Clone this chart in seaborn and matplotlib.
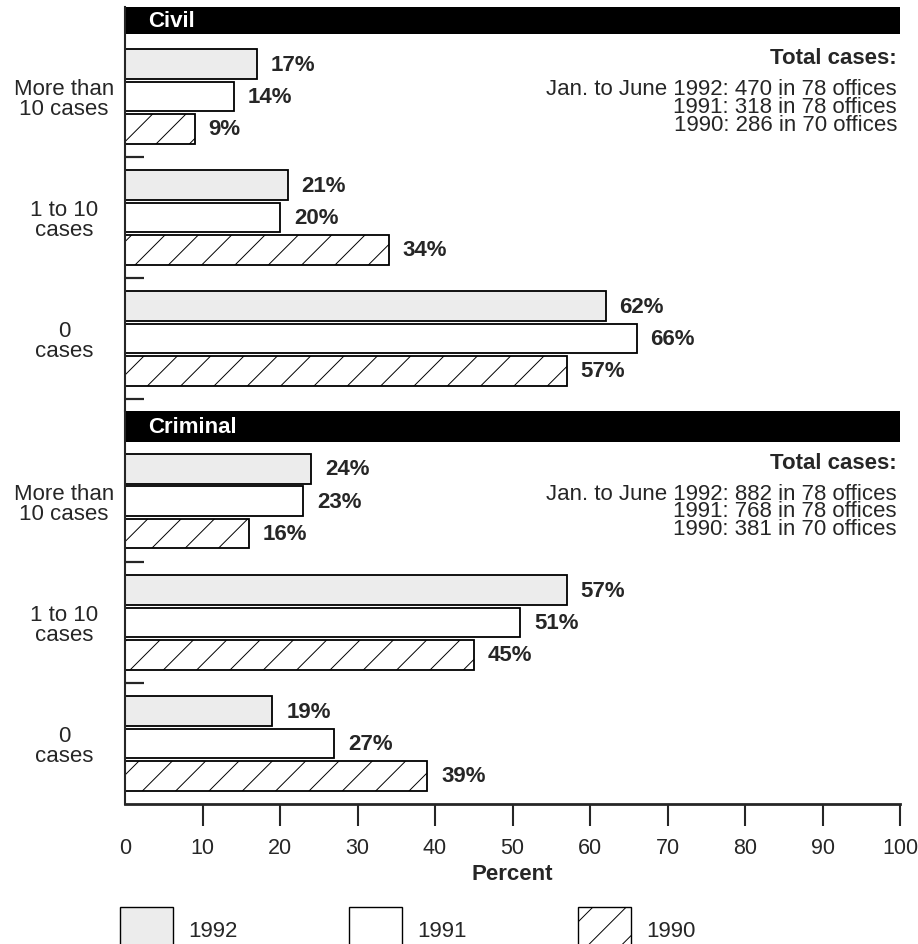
import matplotlib
matplotlib.use('Agg')
import matplotlib.pyplot as plt
from matplotlib.patches import Patch, Rectangle
import pandas as pd
import seaborn as sns

# categories and years
categories = ['More than\n10 cases', '1 to 10\ncases', '0\ncases']
years = ['1992', '1991', '1990']

# percent of offices, one list per year (same order as categories)
civil_1992 = [17, 21, 62]
civil_1991 = [14, 20, 66]
civil_1990 = [9, 34, 57]

criminal_1992 = [24, 57, 19]
criminal_1991 = [23, 51, 27]
criminal_1990 = [16, 45, 39]

civil_totals = ['Jan. to June 1992: 470 in 78 offices',
                '1991: 318 in 78 offices',
                '1990: 286 in 70 offices']
criminal_totals = ['Jan. to June 1992: 882 in 78 offices',
                   '1991: 768 in 78 offices',
                   '1990: 381 in 70 offices']

x_ticks = list(range(0, 101, 10))

fills = {'1992': '#ececec', '1991': 'white', '1990': 'white'}
hatches = {'1990': '/'}


def make_frame(series):
    rows = []
    for year, vals in zip(years, series):
        for cat, v in zip(categories, vals):
            rows.append({'category': cat, 'year': year, 'percent': v})
    return pd.DataFrame(rows)


def draw_panel(ax, df, title, totals, ylim, header_bottom, dashes):
    sns.barplot(data=df, x='percent', y='category', hue='year',
                order=categories, hue_order=years, orient='h',
                palette=fills, edgecolor='black', linewidth=1.3,
                width=0.8, gap=0.08, errorbar=None, legend=False, ax=ax)
    for year, cont in zip(years, ax.containers):
        if year in hatches:
            for bar in cont:
                bar.set_hatch(hatches[year])
        ax.bar_label(cont, labels=[f'{v:.0f}%' for v in cont.datavalues],
                     padding=10, fontsize=16, fontweight='bold')

    ax.set_xlim(0, 100)
    ax.set_ylim(*ylim)
    ax.set_xlabel('')
    ax.set_ylabel('')

    # black header band
    ax.add_patch(Rectangle((0, ylim[1]), 100, header_bottom - ylim[1],
                           facecolor='black', edgecolor='none'))
    ax.text(3, (ylim[1] + header_bottom) / 2, title, color='white',
            fontsize=16, fontweight='bold', ha='left', va='center')

    ax.text(99.6, -0.32, 'Total cases:', ha='right', va='center',
            fontsize=16, fontweight='bold')
    ax.text(99.6, 0.08, '\n'.join(totals), ha='right', va='center',
            multialignment='right', fontsize=16, linespacing=0.8)

    sns.despine(ax=ax)
    ax.spines['left'].set_linewidth(1.5)
    ax.tick_params(axis='y', which='major', length=0, pad=44, labelsize=16)
    for lab in ax.get_yticklabels():
        lab.set_horizontalalignment('center')
        lab.set_multialignment('center')
        lab.set_linespacing(0.95)
    ax.set_yticks(dashes, minor=True)
    ax.tick_params(axis='y', which='minor', direction='in', length=14, width=1.6)


sns.set_style('ticks')
plt.rcParams['font.family'] = ['Liberation Sans', 'DejaVu Sans']
plt.rcParams['hatch.linewidth'] = 0.7

fig = plt.figure(figsize=(9.18, 9.45), dpi=100)
ax_civil = fig.add_axes([125 / 918, 0.564, 775 / 918, 0.4275])
ax_crim = fig.add_axes([125 / 918, 0.1481, 775 / 918, 0.4159])

draw_panel(ax_civil, make_frame([civil_1992, civil_1991, civil_1990]),
           'Civil', civil_totals, (2.6, -0.74), -0.52, [0.5, 1.5, 2.5])
draw_panel(ax_crim, make_frame([criminal_1992, criminal_1991, criminal_1990]),
           'Criminal', criminal_totals, (2.5, -0.745), -0.49, [0.5, 1.5])

ax_civil.spines['bottom'].set_visible(False)
ax_civil.tick_params(axis='x', bottom=False, labelbottom=False)

ax_crim.spines['bottom'].set_linewidth(2)
ax_crim.set_xticks(x_ticks)
ax_crim.tick_params(axis='x', length=16, width=1.5, pad=8, labelsize=15.5)
ax_crim.xaxis.get_major_ticks()[0].tick1line.set_visible(False)
ax_crim.set_xlabel('Percent', fontsize=16, fontweight='bold', labelpad=3)

handles = [Patch(facecolor=fills[y], edgecolor='black', linewidth=1,
                 hatch=hatches.get(y, '')) for y in years]
fig.legend(handles=handles, labels=years, loc='upper left',
           bbox_to_anchor=(120 / 918, 1 - 908 / 945), ncol=3, frameon=False,
           fontsize=16, handlelength=2.4, handleheight=2.7, handletextpad=0.68,
           columnspacing=5.0, borderpad=0, borderaxespad=0)

fig.savefig('out.png', dpi=100)
